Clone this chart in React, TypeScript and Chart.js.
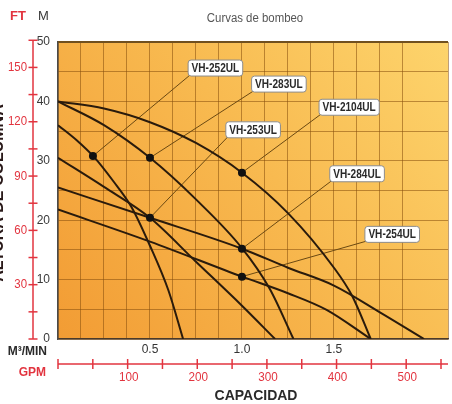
import React, { useEffect, useRef } from 'react';
import { Chart, registerables } from 'chart.js';

Chart.register(...registerables);

// ---- Pump curves: capacity (m³/min) -> head (m) ----
const Q_2104 = [0, 0.25, 0.5, 0.75, 1.0, 1.25, 1.5, 1.6, 1.7];
const H_2104 = [40, 38.8, 36.5, 33, 28, 21.2, 12, 7.2, 0];

const Q_283 = [0, 0.25, 0.5, 0.75, 1.0, 1.15, 1.28];
const H_283 = [40, 36, 30.5, 23.5, 15.3, 8.5, 0];

const Q_252 = [0, 0.1, 0.2, 0.3, 0.4, 0.5, 0.6, 0.68];
const H_252 = [36, 33.5, 30.5, 26.6, 22.2, 15.7, 8.2, 0];

const Q_253 = [0, 0.25, 0.5, 0.75, 1.0, 1.18];
const H_253 = [30.5, 25.6, 20.4, 13, 5.6, 0];

const Q_284 = [0, 0.5, 1.0, 1.25, 1.5, 1.75, 1.99];
const H_284 = [25.5, 20.4, 15.2, 12, 9.0, 4.5, 0];

const Q_254 = [0, 0.5, 1.0, 1.25, 1.46, 1.7];
const H_254 = [21.8, 16.4, 10.5, 7.7, 4.9, 0];

// ---- Marked points and their model names ----
const MARK_MODEL = ['VH-252UL', 'VH-283UL', 'VH-2104UL', 'VH-253UL', 'VH-284UL', 'VH-254UL'];
const MARK_Q = [0.19, 0.5, 1.0, 0.5, 1.0, 1.0];
const MARK_H = [30.8, 30.5, 28, 20.4, 15.2, 10.5];

// ---- Secondary axes tick values ----
const FT_TICKS = [0, 15, 30, 45, 60, 75, 90, 105, 120, 135, 150, 165];
const FT_LABELS = [30, 60, 90, 120, 150];
const GPM_TICKS = [0, 50, 100, 150, 200, 250, 300, 350, 400, 450, 500, 550];
const GPM_LABELS = [100, 200, 300, 400, 500];
const X_LABELS = [0.5, 1.0, 1.5, 2.0];

const FT_PER_M = 3.28084;
const GPM_PER_M3MIN = 264.172;

const RED = '#e2343f';
const SANS = "'Liberation Sans', Arial, sans-serif";
const CURVE = '#2a1b0c';
const SQUEEZE = 0.84;

// callout box centres (data units), same order as MARK_MODEL
const CALLOUT_AT = [
  [0.853, 45.7],
  [1.198, 43.0],
  [1.58, 39.1],
  [1.058, 35.3],
  [1.623, 27.9],
  [1.814, 17.7],
];

const pts = (q: number[], h: number[]) => q.map((v, i) => ({ x: v, y: h[i] }));

// draw horizontally condensed text (emulates a narrow face)
const narrowText = (
  ctx: CanvasRenderingContext2D,
  text: string,
  x: number,
  y: number,
  align: CanvasTextAlign,
  k: number = SQUEEZE
) => {
  ctx.save();
  ctx.translate(x, y);
  ctx.scale(k, 1);
  ctx.textAlign = align;
  ctx.fillText(text, 0, 0);
  ctx.restore();
};

const boxGeom = (ctx: CanvasRenderingContext2D, chart: any, i: number) => {
  ctx.font = `bold 12px ${SANS}`;
  const w = ctx.measureText(MARK_MODEL[i]).width * SQUEEZE + 7;
  const h = 16;
  const cx = chart.scales.x.getPixelForValue(CALLOUT_AT[i][0]);
  const cy = chart.scales.y.getPixelForValue(CALLOUT_AT[i][1]);
  return { x: cx - w / 2, y: cy - h / 2, w, h, cx, cy };
};

const decor = {
  id: 'decor',
  beforeDraw(chart: any) {
    const { ctx, chartArea: a } = chart;
    ctx.save();
    ctx.fillStyle = '#ffffff';
    ctx.fillRect(0, 0, chart.width, chart.height);
    const g = ctx.createLinearGradient(a.left, a.bottom, a.right, a.top);
    g.addColorStop(0, '#f29c34');
    g.addColorStop(0.55, '#f8ba50');
    g.addColorStop(1, '#fdd46c');
    ctx.fillStyle = g;
    ctx.fillRect(a.left, a.top, a.right - a.left, a.bottom - a.top);
    ctx.restore();
  },
  beforeDatasetsDraw(chart: any) {
    const { ctx } = chart;
    ctx.save();
    ctx.strokeStyle = '#6b4912';
    ctx.lineWidth = 1;
    MARK_MODEL.forEach((_, i) => {
      const px = chart.scales.x.getPixelForValue(MARK_Q[i]);
      const py = chart.scales.y.getPixelForValue(MARK_H[i]);
      const b = boxGeom(ctx, chart, i);
      ctx.beginPath();
      ctx.moveTo(px, py);
      ctx.lineTo(b.x + 3, b.y + b.h - 1);
      ctx.stroke();
    });
    ctx.restore();
  },
  afterDatasetsDraw(chart: any) {
    const { ctx } = chart;
    ctx.save();
    MARK_MODEL.forEach((name, i) => {
      const b = boxGeom(ctx, chart, i);
      ctx.beginPath();
      ctx.roundRect(b.x + 0.5, b.y + 0.5, b.w, b.h, 3);
      ctx.fillStyle = '#ffffff';
      ctx.fill();
      ctx.strokeStyle = '#8c8c8c';
      ctx.lineWidth = 1;
      ctx.stroke();
      ctx.fillStyle = '#2a2a2a';
      ctx.textBaseline = 'middle';
      narrowText(ctx, name, b.cx + 0.5, b.cy + 1, 'center');
    });
    ctx.restore();
  },
  afterDraw(chart: any) {
    const { ctx, chartArea: a } = chart;
    const xs = chart.scales.x;
    const ys = chart.scales.y;
    ctx.save();

    // top border of plot
    ctx.strokeStyle = '#70501f';
    ctx.lineWidth = 2;
    ctx.beginPath();
    ctx.moveTo(a.left, a.top);
    ctx.lineTo(a.right, a.top);
    ctx.stroke();

    // FT axis
    const axX = 33;
    const ftPix = (ft: number) => ys.getPixelForValue(ft / FT_PER_M);
    ctx.strokeStyle = RED;
    ctx.lineWidth = 1.5;
    ctx.beginPath();
    ctx.moveTo(axX, ftPix(FT_TICKS[FT_TICKS.length - 1]));
    ctx.lineTo(axX, ftPix(0));
    ctx.stroke();
    FT_TICKS.forEach((t) => {
      const y = ftPix(t);
      ctx.beginPath();
      ctx.moveTo(axX - 4.5, y);
      ctx.lineTo(axX + 4.5, y);
      ctx.stroke();
    });
    ctx.fillStyle = RED;
    ctx.font = `13px ${SANS}`;
    ctx.textBaseline = 'middle';
    FT_LABELS.forEach((t) => narrowText(ctx, String(t), axX - 6, ftPix(t), 'right', 0.88));

    // GPM axis
    const gy = 364;
    const gPix = (g: number) => xs.getPixelForValue(g / GPM_PER_M3MIN);
    ctx.beginPath();
    ctx.moveTo(gPix(0), gy);
    ctx.lineTo(a.right, gy);
    ctx.stroke();
    GPM_TICKS.forEach((t) => {
      const x = gPix(t);
      ctx.beginPath();
      ctx.moveTo(x, gy - 5);
      ctx.lineTo(x, gy + 5);
      ctx.stroke();
    });
    GPM_LABELS.forEach((t) => narrowText(ctx, String(t), gPix(t) + 1, gy + 13, 'center', 0.9));

    // header texts
    ctx.textBaseline = 'middle';
    ctx.textAlign = 'left';
    ctx.font = `bold 13px ${SANS}`;
    ctx.fillStyle = RED;
    ctx.fillText('FT', 10, 16);
    ctx.font = `13px ${SANS}`;
    ctx.fillStyle = '#3a3a3a';
    ctx.fillText('M', 38, 16);

    ctx.font = `12px ${SANS}`;
    ctx.fillStyle = '#555555';
    narrowText(ctx, 'Curvas de bombeo', 255, 19, 'center', 0.95);

    // axis unit names
    ctx.font = `bold 12px ${SANS}`;
    ctx.fillStyle = '#2a2a2a';
    narrowText(ctx, 'M³/MIN', 47, 352, 'right', 1);
    ctx.fillStyle = RED;
    narrowText(ctx, 'GPM', 46, 373, 'right', 1);

    ctx.textAlign = 'center';
    ctx.font = `bold 14px ${SANS}`;
    ctx.fillStyle = '#2a2a2a';
    ctx.fillText('CAPACIDAD', 256, 396);

    // rotated left title
    ctx.save();
    ctx.translate(3, 193);
    ctx.rotate(-Math.PI / 2);
    ctx.textAlign = 'center';
    ctx.textBaseline = 'alphabetic';
    ctx.font = `bold 16px ${SANS}`;
    ctx.fillStyle = '#2a1a1a';
    ctx.fillText('ALTURA DE COLUMNA', 0, 0);
    ctx.restore();

    ctx.restore();
  },
};

const curve = (label: string, q: number[], h: number[]) => ({
  type: 'line' as const,
  label,
  data: pts(q, h),
  borderColor: CURVE,
  borderWidth: 2,
  pointRadius: 0,
  fill: false,
  cubicInterpolationMode: 'monotone' as const,
});

export default function App() {
  const ref = useRef<HTMLCanvasElement>(null);

  useEffect(() => {
    const canvas = ref.current;
    if (!canvas) return;
    const gridColor = 'rgba(135, 78, 12, 0.55)';
    const chart = new Chart(canvas, {
      type: 'line',
      data: {
        datasets: [
          {
            type: 'scatter',
            label: 'marks',
            data: pts(MARK_Q, MARK_H),
            pointRadius: 4,
            pointBackgroundColor: '#111111',
            pointBorderWidth: 0,
            showLine: false,
          } as any,
          curve('VH-2104UL', Q_2104, H_2104),
          curve('VH-283UL', Q_283, H_283),
          curve('VH-252UL', Q_252, H_252),
          curve('VH-253UL', Q_253, H_253),
          curve('VH-284UL', Q_284, H_284),
          curve('VH-254UL', Q_254, H_254),
        ],
      },
      options: {
        animation: false,
        responsive: false,
        maintainAspectRatio: false,
        layout: { padding: { top: 42, right: 0, left: 0, bottom: 0 } },
        plugins: {
          legend: { display: false },
          tooltip: { enabled: false },
        },
        scales: {
          x: {
            type: 'linear',
            min: 0,
            max: 2.12,
            afterFit: (s: any) => {
              s.height = 65;
            },
            ticks: {
              stepSize: 0.125,
              autoSkip: false,
              maxRotation: 0,
              padding: 3,
              color: '#333333',
              font: { family: SANS, size: 12 },
              callback: (v: any) => (X_LABELS.includes(Number(v)) ? Number(v).toFixed(1) : ''),
            },
            grid: { color: gridColor, lineWidth: 1, drawTicks: false },
            border: { display: true, color: '#4a3a2a', width: 1.5 },
          },
          y: {
            type: 'linear',
            min: 0,
            max: 50,
            afterFit: (s: any) => {
              s.width = 58;
            },
            ticks: {
              stepSize: 5,
              padding: 8,
              color: '#3a3a3a',
              font: { family: SANS, size: 12 },
              callback: (v: any) => (Number(v) % 10 === 0 ? String(v) : ''),
            },
            grid: { color: gridColor, lineWidth: 1, drawTicks: false },
            border: { display: true, color: '#4a4a4a', width: 1.5 },
          },
        },
      },
      plugins: [decor],
    } as any);
    return () => chart.destroy();
  }, []);

  return (
    <div style={{ position: 'fixed', left: 0, top: 0, width: 452, height: 404, background: '#ffffff' }}>
      <canvas ref={ref} width={452} height={404} style={{ display: 'block', width: 452, height: 404 }} />
    </div>
  );
}
